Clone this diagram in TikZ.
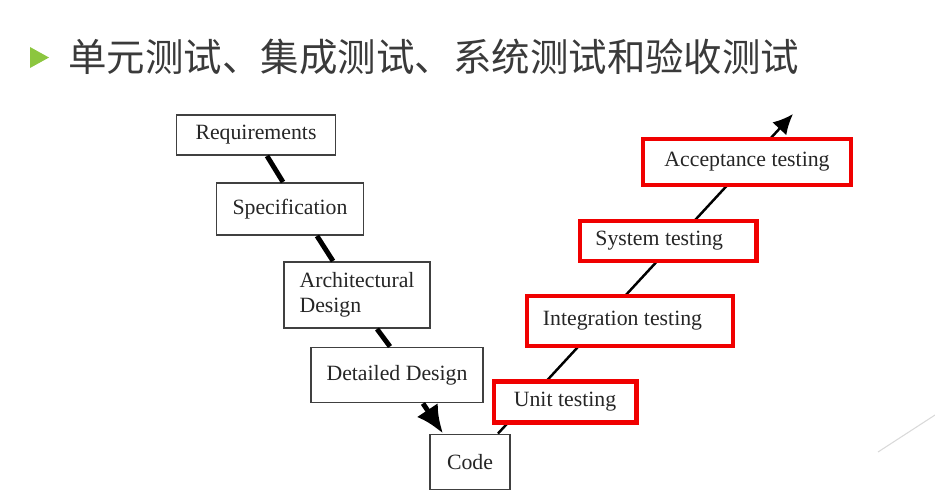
\documentclass[tikz,border=0pt]{standalone}
\usepackage{fontspec}
\setmainfont{Liberation Serif}
\newfontfamily\cjkfont{Noto Sans CJK SC}
\usetikzlibrary{arrows.meta, backgrounds}
\definecolor{titlegreen}{HTML}{8CC63F}
\definecolor{titlegray}{HTML}{3A3A3A}
\definecolor{boxgray}{HTML}{404040}
\definecolor{markred}{HTML}{F00000}

\begin{document}
\begin{tikzpicture}[x=0.02cm, y=-0.02cm, font=\fontsize{12.4}{14}\selectfont,
  phase/.style={draw=boxgray, line width=1.1pt, fill=white, align=center, inner sep=2pt, text=black!85},
  testbox/.style={draw=markred, line width=2.3pt, fill=white, align=center, inner sep=2pt, text=black!85},
  fall/.style={line width=2.8pt, black}]
						\useasboundingbox (0,0) rectangle (935,498);
						% title
						\fill[titlegreen] (30,47) -- (30,68) -- (49,57.5) -- cycle;
						\node[anchor=west, inner sep=0pt, text=titlegray, font=\cjkfont\fontsize{21.9}{24}\selectfont] (title) at (68,57) {单元测试、集成测试、系统测试和验收测试};
						% left side of the V
						\node[phase, minimum width=3.18cm, minimum height=0.8cm] (req) at (256,135) {Requirements};
						\node[phase, minimum width=2.94cm, minimum height=1.04cm] (spec) at (290,209) {Specification};
						\node[phase, minimum width=2.92cm, minimum height=1.32cm, align=left] (arch) at (357,295) {Architectural\\Design};
						\node[phase, minimum width=3.44cm, minimum height=1.1cm] (detail) at (397,375) {Detailed Design};
						\node[phase, minimum width=1.6cm, minimum height=1.1cm] (code) at (470,462) {Code};
						% right side of the V
						\node[testbox, minimum width=2.86cm, minimum height=0.82cm] (unit) at (565,402) {Unit testing};
						\node[testbox, minimum width=4.12cm, minimum height=1.0cm] (integ) at (630,321) {\hspace*{-0.3cm}Integration testing};
						\node[testbox, minimum width=3.54cm, minimum height=0.8cm] (sys) at (668,241) {\hspace*{-0.35cm}System testing};
						\node[testbox, minimum width=4.16cm, minimum height=0.92cm] (accept) at (747,162) {Acceptance testing};
						\coordinate (top) at (793,114);
						\draw[fall] ([xshift=0.22cm]req.south) -- ([xshift=-0.14cm]spec.north);
						\draw[fall] ([xshift=0.54cm]spec.south) -- ([xshift=-0.48cm]arch.north);
						\draw[fall] ([xshift=0.4cm]arch.south) -- ([xshift=-0.14cm]detail.north);
						\draw[fall, -{Latex[length=5.6mm, width=5mm]}] ([xshift=0.52cm]detail.south) -- ([xshift=-0.54cm]code.north);
						\begin{scope}[on background layer]
						\draw[line width=1.4pt, -{Latex[length=4mm, width=3.8mm]}] ([xshift=0.56cm]code.north) -- (top);
						\end{scope}
						\draw[gray!30, line width=0.6pt] (878,452) -- (935,415);
					\end{tikzpicture}
\end{document}
